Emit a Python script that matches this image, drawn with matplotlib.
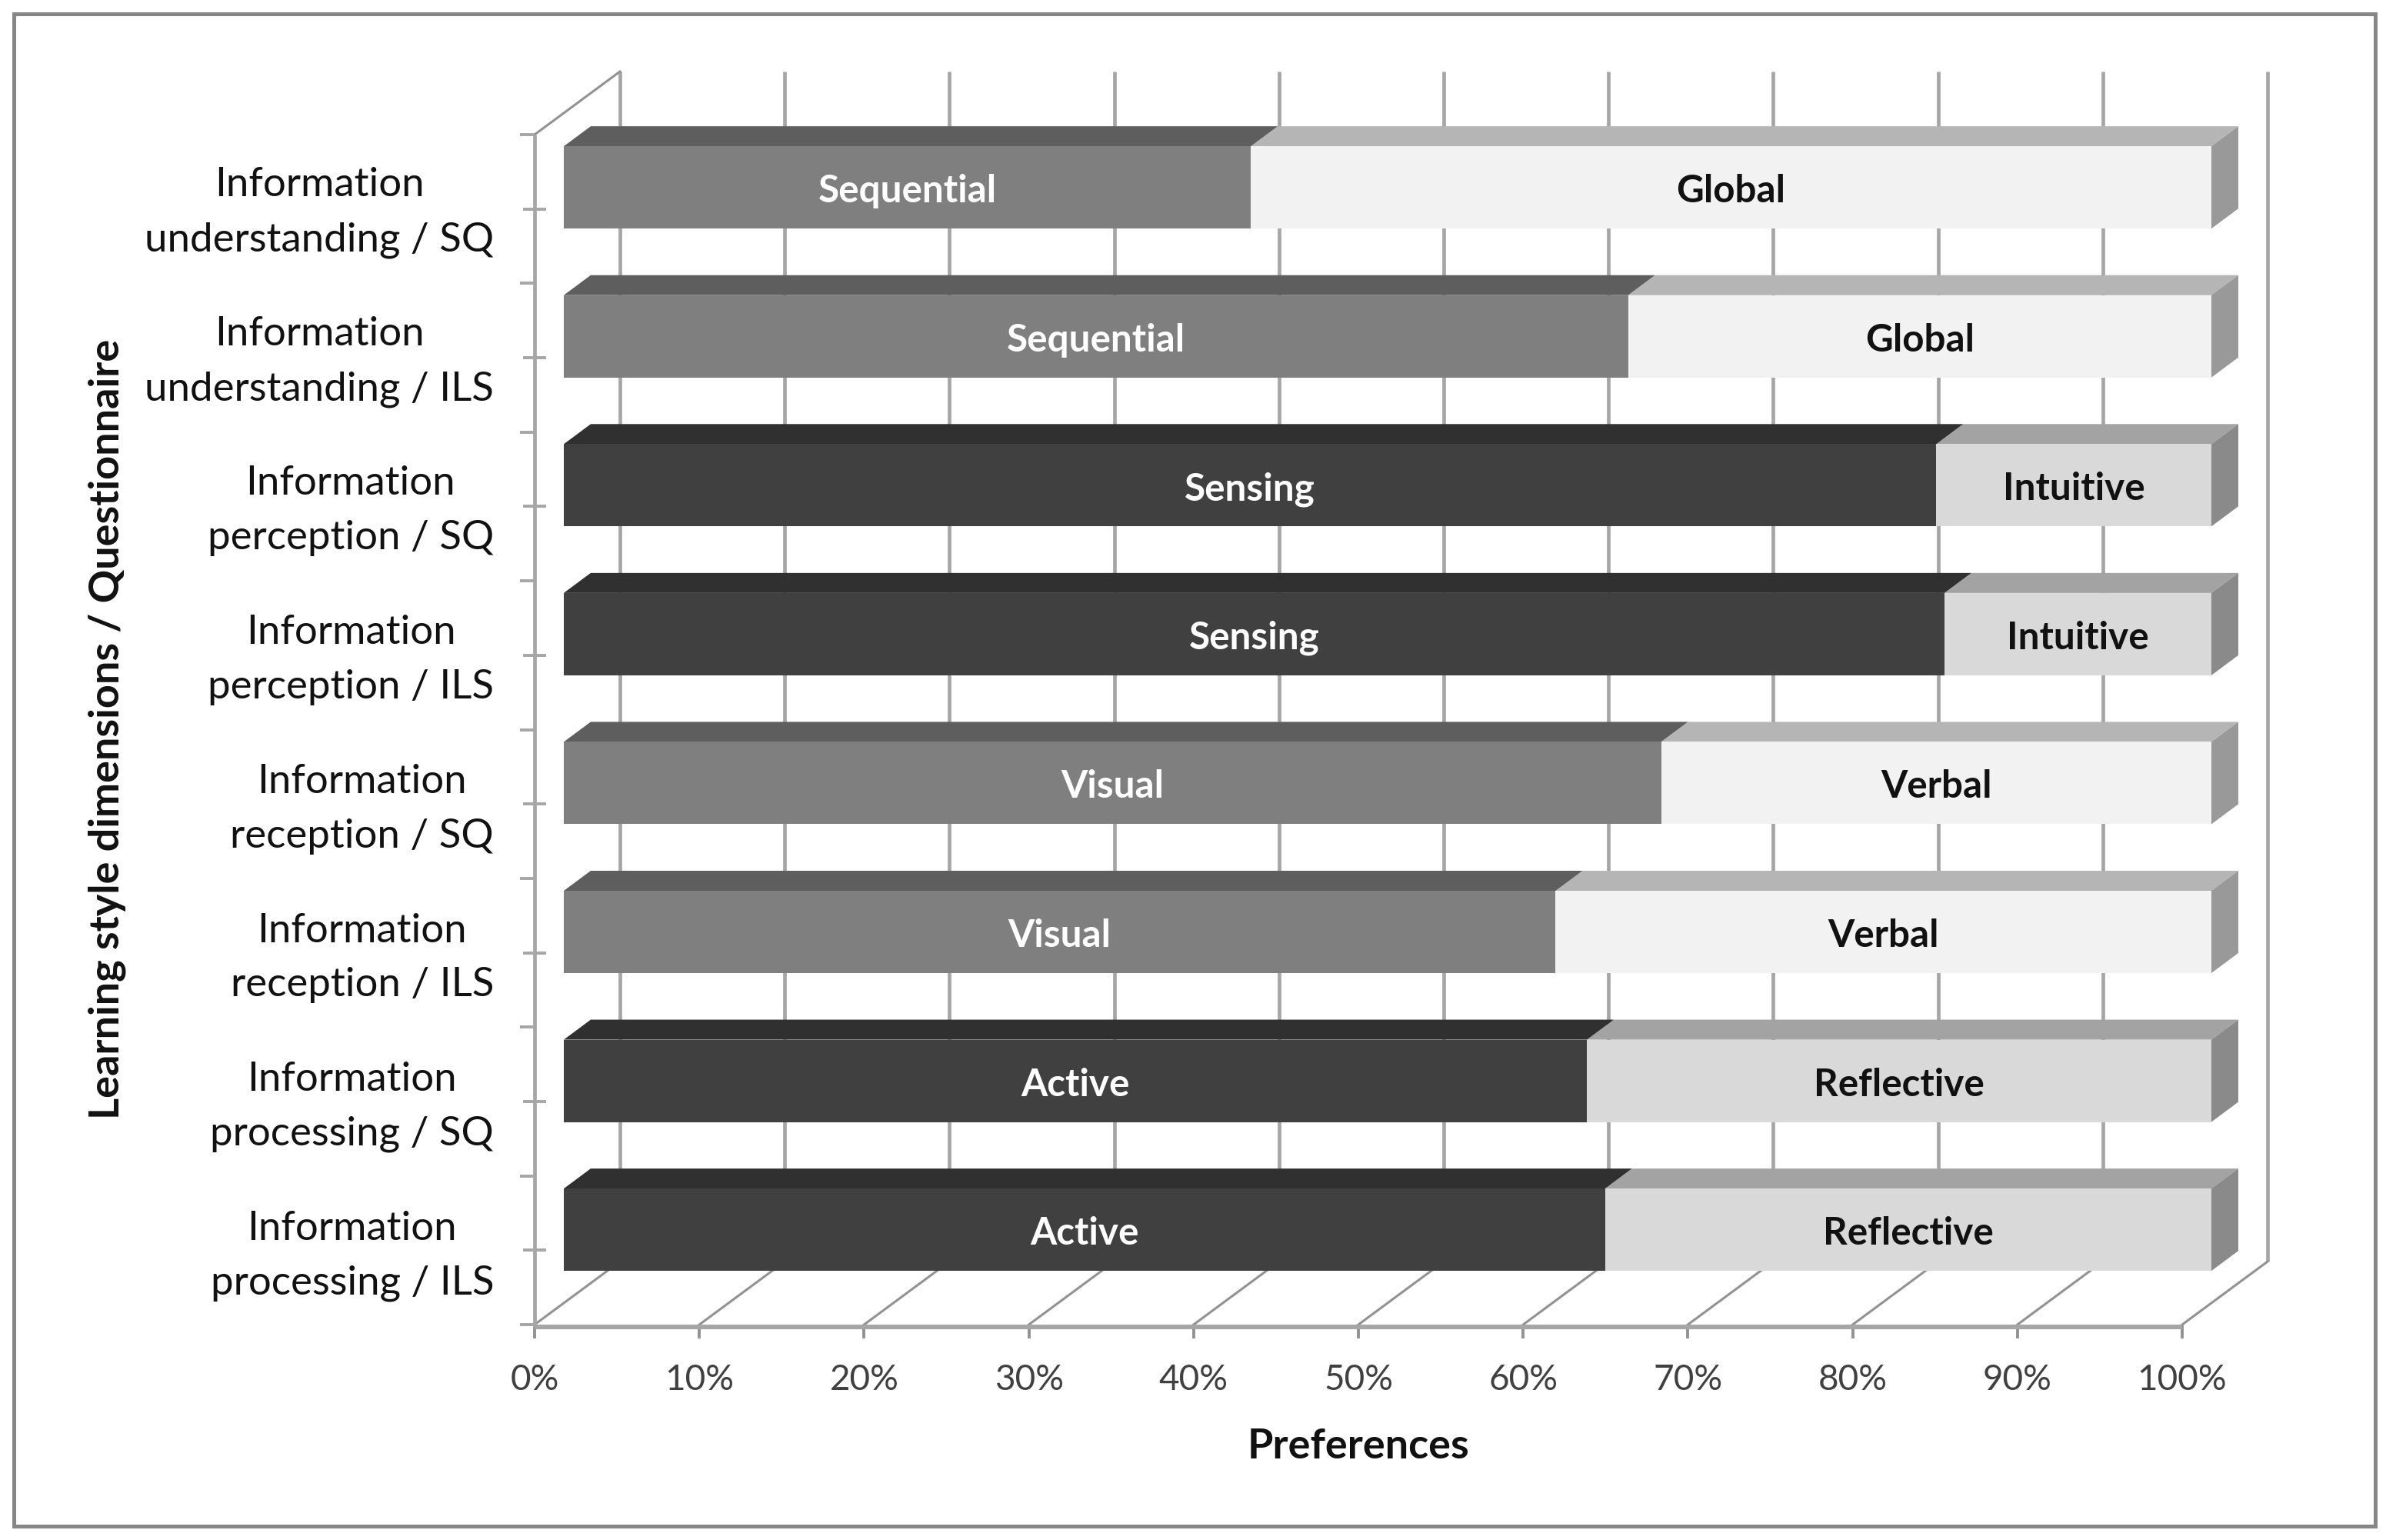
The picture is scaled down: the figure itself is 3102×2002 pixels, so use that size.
import matplotlib
matplotlib.use('Agg')
import matplotlib.pyplot as plt
from matplotlib.patches import Polygon, Rectangle

categories = ['Information\nunderstanding / SQ', 'Information\nunderstanding / ILS',
              'Information\nperception / SQ', 'Information\nperception / ILS',
              'Information\nreception / SQ', 'Information\nreception / ILS',
              'Information\nprocessing / SQ', 'Information\nprocessing / ILS']
first_names = ['Sequential', 'Sequential', 'Sensing', 'Sensing', 'Visual', 'Visual', 'Active', 'Active']
second_names = ['Global', 'Global', 'Intuitive', 'Intuitive', 'Verbal', 'Verbal', 'Reflective', 'Reflective']
first_values = [41.7, 64.6, 83.3, 83.8, 66.6, 60.2, 62.1, 63.2]
x_ticks = [0, 10, 20, 30, 40, 50, 60, 70, 80, 90, 100]

plt.rcParams['font.family'] = ['Lato', 'DejaVu Sans']

W, H = 3102, 2002
left, right, top, bottom = 695, 2837, 175, 1722
grid_col = '#a6a6a6'
diag_col = '#929292'
lw = 1.7

fig = plt.figure(figsize=(W / 200, H / 200), dpi=200)
ax = fig.add_axes([left / W, 1 - bottom / H, (right - left) / W, (bottom - top) / H])
ax.set_xlim(0, 100)
ax.set_ylim(8, 0)
ax.patch.set_visible(False)
for s in ax.spines.values():
    s.set_visible(False)

# pixels to data units
ux = (right - left) / 100
uy = (bottom - top) / 8

# 3d depth of the chart box and of the bars
box_dx, box_dy = 111 / ux, 82 / uy
bar_dx, bar_dy = 35 / ux, 26 / uy
bar_x0 = 38 / ux
bar_h = 107 / uy
bar_shift = -0.145
floor_y = 8 + 3 / uy

# outer frame
fig.add_artist(Rectangle((18 / W, 1 - 1984 / H), 3070 / W, 1966 / H, transform=fig.transFigure,
                         fill=False, edgecolor='#868686', linewidth=1.8))

# back wall and floor
for t in x_ticks:
    ax.plot([t + box_dx, t + box_dx], [-box_dy, 8 - box_dy], color=grid_col, lw=lw, zorder=1,
            clip_on=False, solid_capstyle='butt')
    ax.plot([t, t + box_dx], [8, 8 - box_dy], color=diag_col, lw=1.1, zorder=1, clip_on=False)
ax.plot([0, box_dx], [0, -box_dy], color=diag_col, lw=1.1, zorder=1, clip_on=False)
ax.plot([0, 0], [0, floor_y], color=grid_col, lw=lw, zorder=2, clip_on=False, solid_capstyle='butt')
ax.plot([0, 100], [floor_y, floor_y], color=grid_col, lw=2.2, zorder=2, clip_on=False, solid_capstyle='butt')


def draw_box(x0, x1, y0, front, lid, side=None):
    y1 = y0 + bar_h
    ax.add_patch(Polygon([(x0, y0), (x1, y0), (x1 + bar_dx, y0 - bar_dy), (x0 + bar_dx, y0 - bar_dy)],
                         facecolor=lid, edgecolor='none', zorder=3, clip_on=False))
    ax.add_patch(Rectangle((x0, y0), x1 - x0, bar_h, facecolor=front, edgecolor='none', zorder=4, clip_on=False))
    if side is not None:
        ax.add_patch(Polygon([(x1, y0), (x1 + bar_dx, y0 - bar_dy), (x1 + bar_dx, y1 - bar_dy), (x1, y1)],
                             facecolor=side, edgecolor='none', zorder=4, clip_on=False))


for i in range(8):
    dark = first_names[i] in ('Sensing', 'Active')
    if dark:
        colors = ['#404040', '#303030', '#d9d9d9', '#a3a3a3', '#8a8a8a']
    else:
        colors = ['#7f7f7f', '#5e5e5e', '#f2f2f2', '#b5b5b5', '#999999']
    y0 = i * 1.001 + 0.5 + bar_shift - bar_h / 2
    split = bar_x0 + first_values[i]
    draw_box(split, bar_x0 + 100, y0, colors[2], colors[3], colors[4])
    draw_box(bar_x0, split, y0, colors[0], colors[1])
    ym = y0 + bar_h / 2 + 5 / uy
    ax.text((bar_x0 + split) / 2, ym, first_names[i], color='white', fontsize=17.8, fontweight='bold',
            ha='center', va='center', zorder=5)
    ax.text((split + bar_x0 + 100) / 2, ym, second_names[i], color='#111111', fontsize=17.8, fontweight='bold',
            ha='center', va='center', zorder=5)
    # category labels drift slightly from the ticks in the original
    ax.text(-53 / ux, i + 0.5 + i * 0.002 + 5 / uy, categories[i], fontsize=19, color='#111111', ha='right',
            va='center', multialignment='center', linespacing=1.63)

# ticks and tick labels
ax.set_xticks(x_ticks)
ax.set_xticklabels(['%d%%' % t for t in x_ticks], fontsize=16.5, color='#404040')
ax.tick_params(axis='x', length=6.5, width=1.4, color=diag_col, pad=12)
ax.set_yticks(range(9))
ax.set_yticklabels([])
ax.tick_params(axis='y', which='major', length=6.8, width=1.4, color=grid_col)
ax.set_yticks([i + 0.5 for i in range(8)], minor=True)
ax.tick_params(axis='y', which='minor', direction='inout', length=10.8, width=1.4, color=grid_col)

ax.set_xlabel('Preferences', fontsize=19.5, fontweight='bold', color='#111111', labelpad=14.5)
fig.text(139 / W, 1 - 948 / H, 'Learning style dimensions / Questionnaire', rotation=90, fontsize=19.5,
         fontweight='bold', color='#111111', ha='center', va='center')

fig.savefig('out.png', dpi=200, facecolor='white')
